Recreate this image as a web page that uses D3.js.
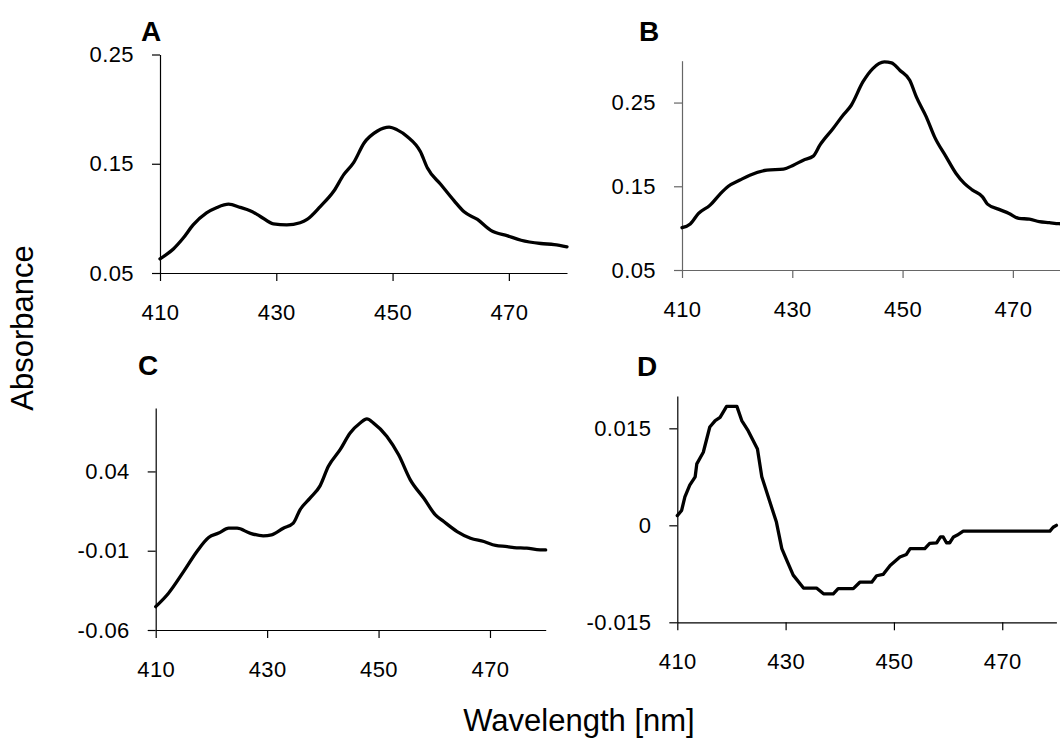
<!DOCTYPE html>
<html>
<head>
<meta charset="utf-8">
<script src="https://cdn.jsdelivr.net/npm/d3@7"></script>
<style>
  body { margin: 0; background: #fff; }
  svg { display: block; }
  .tick text { font-family: "Liberation Sans", Arial, sans-serif; font-size: 22px; letter-spacing: 0.4px; fill: #000; }
  .title { font-family: "Liberation Sans", Arial, sans-serif; font-size: 31px; fill: #000; }
  .letter { font-family: "Liberation Sans", Arial, sans-serif; font-size: 28px; font-weight: bold; fill: #000; }
</style>
</head>
<body>
<div id="chart"></div>
<script>
// wavelength ticks shared by all four panels
var xTicks = [410, 430, 450, 470];

// panel A
var wlA  = [410, 412.3, 414, 415.7, 418, 419.8, 421.8, 423.8, 425.5, 427.2, 429.5, 431.8, 434.1, 435.3, 437.6, 439.9, 441.6, 443.3, 445.1, 447.4, 449.4, 450.8, 452.5, 454.8, 456, 458.3, 460.6, 462.3, 464.6, 466.9, 469.8, 472.1, 475.5, 477.8, 480];
var absA = [0.063, 0.072, 0.082, 0.094, 0.105, 0.110, 0.113, 0.110, 0.107, 0.102, 0.095, 0.094, 0.096, 0.099, 0.111, 0.125, 0.140, 0.151, 0.169, 0.180, 0.1835, 0.181, 0.175, 0.161, 0.146, 0.131, 0.116, 0.106, 0.099, 0.089, 0.084, 0.080, 0.077, 0.076, 0.074];
var yTicksA = [0.05, 0.15, 0.25];
var yLabelsA = ["0.05", "0.15", "0.25"];

// panel B
var wlB  = [410, 411.5, 413, 415.1, 416.9, 418.4, 420.5, 422.3, 425.4, 428.4, 430.2, 432, 433.8, 435, 437.4, 439.2, 440.7, 442.8, 444.6, 446.7, 448, 449.5, 451.3, 452.5, 454.3, 455.8, 457.9, 459.7, 461.2, 462.7, 464.5, 465.4, 467.5, 469.3, 471.1, 473, 474.8, 476.6, 478.4, 480];
var absB = [0.1005, 0.105, 0.1176, 0.1275, 0.1407, 0.150, 0.1574, 0.1633, 0.1693, 0.1705, 0.1752, 0.1812, 0.186, 0.1991, 0.219, 0.2349, 0.2468, 0.2746, 0.2906, 0.2985, 0.2973, 0.2886, 0.2766, 0.2568, 0.2329, 0.209, 0.1852, 0.1653, 0.1534, 0.1454, 0.1374, 0.1287, 0.1224, 0.1176, 0.1116, 0.1108, 0.1077, 0.1065, 0.1053, 0.1045];
var yTicksB = [0.05, 0.15, 0.25];
var yLabelsB = ["0.05", "0.15", "0.25"];

// panel C
var wlC  = [410, 412.3, 415, 417.4, 419.5, 421.3, 423.1, 424.6, 426.9, 429.3, 430.8, 432.9, 434.7, 435.9, 437.7, 439.5, 441, 443.1, 444.9, 446.7, 447.9, 449.1, 451.5, 453.6, 455.7, 458.1, 460.2, 461.7, 464.1, 466.5, 468.9, 471, 473.1, 474.3, 476.6, 479, 480];
var absC = [-0.0453, -0.0368, -0.0232, -0.0105, -0.0017, 0.0011, 0.0042, 0.0042, 0.0011, -0.0006, 0.0, 0.0042, 0.0074, 0.0158, 0.0232, 0.0309, 0.0432, 0.0537, 0.0642, 0.0705, 0.0731, 0.0705, 0.0621, 0.0505, 0.0347, 0.0232, 0.0126, 0.0084, 0.0021, -0.0021, -0.0042, -0.0067, -0.0074, -0.008, -0.0084, -0.0095, -0.0095];
var yTicksC = [-0.06, -0.01, 0.04];
var yLabelsC = ["-0.06", "-0.01", "0.04"];

// panel D (difference spectrum)
var wlD  = [410, 410.8, 411.4, 412.3, 413.3, 413.6, 414.8, 416, 417, 417.9, 419.1, 421, 421.9, 423.1, 424.8, 425.6, 427.1, 428.3, 429.3, 430.2, 431.4, 433.3, 435.7, 437, 438.8, 439.7, 442.5, 443.7, 445.9, 446.8, 448, 449.3, 451.1, 452.3, 453, 455.7, 456.6, 457.9, 458.6, 459.1, 459.7, 460.3, 461, 461.7, 462.8, 478.8, 479.4, 480];
var absD = [0.0015, 0.0023, 0.0044, 0.0062, 0.0075, 0.0095, 0.0113, 0.0152, 0.0162, 0.0167, 0.0184, 0.0184, 0.0162, 0.0146, 0.0118, 0.0075, 0.0036, 0.0005, -0.0036, -0.0054, -0.0077, -0.0097, -0.0097, -0.0106, -0.0106, -0.0098, -0.0098, -0.0088, -0.0088, -0.0078, -0.0076, -0.0062, -0.0049, -0.0045, -0.0036, -0.0036, -0.0028, -0.0027, -0.0018, -0.0018, -0.0027, -0.0027, -0.0018, -0.0015, -0.0009, -0.0009, -0.0003, 0.0];
var yTicksD = [-0.015, 0, 0.015];
var yLabelsD = ["-0.015", "0", "0.015"];

var W = 1060, H = 740;

//////////////////////////////////
function drawPanel(svg, p) {
  var x = d3.scaleLinear().domain([410, 480]).range([p.left, p.right]);
  var y = d3.scaleLinear().domain(p.yDomain).range([p.bottom, p.top]);
  var g = svg.append("g");

  var yAxis = d3.axisLeft(y)
    .tickValues(p.yTicks)
    .tickFormat(function(d, i) { return p.yLabels[i]; })
    .tickSizeInner(8).tickSizeOuter(0).tickPadding(18);
  var xAxis = d3.axisBottom(x)
    .tickValues(xTicks)
    .tickFormat(d3.format("d"))
    .tickSizeInner(8).tickSizeOuter(0).tickPadding(23);

  g.append("g").attr("transform", "translate(" + p.left + ",0)").call(yAxis);
  g.append("g").attr("transform", "translate(0," + p.bottom + ")").call(xAxis);
  g.selectAll(".domain, .tick line").attr("stroke", p.axisColor).attr("stroke-width", 1.2);
  g.selectAll(".tick text").attr("font-family", null).attr("font-size", null);

  var line = d3.line()
    .x(function(d) { return x(d[0]); })
    .y(function(d) { return y(d[1]); })
    .curve(p.curve);

  g.append("path")
    .datum(d3.zip(p.wl, p.abs))
    .attr("d", line)
    .attr("fill", "none")
    .attr("stroke", "#000")
    .attr("stroke-width", 3.3)
    .attr("stroke-linejoin", "round")
    .attr("stroke-linecap", "round");

  g.append("text").attr("class", "letter")
    .attr("x", p.letterX).attr("y", p.letterY)
    .text(p.letter);
}

//////////////////////////////////
var svg = d3.select("#chart").append("svg")
  .attr("width", W).attr("height", H);

var panels = [
  { letter: "A", letterX: 141, letterY: 41, left: 160, right: 567, top: 54.5, bottom: 273,
    yDomain: [0.05, 0.25], wl: wlA, abs: absA, yTicks: yTicksA, yLabels: yLabelsA,
    axisColor: "#000", curve: d3.curveMonotoneX },
  { letter: "B", letterX: 639, letterY: 41, left: 682, right: 1068, top: 60.7, bottom: 270,
    yDomain: [0.05, 0.30], wl: wlB, abs: absB, yTicks: yTicksB, yLabels: yLabelsB,
    axisColor: "#666", curve: d3.curveMonotoneX },
  { letter: "C", letterX: 138, letterY: 375, left: 155.7, right: 545.7, top: 408, bottom: 630,
    yDomain: [-0.06, 0.08], wl: wlC, abs: absC, yTicks: yTicksC, yLabels: yLabelsC,
    axisColor: "#000", curve: d3.curveMonotoneX },
  { letter: "D", letterX: 637, letterY: 376, left: 677.3, right: 1056.4, top: 396, bottom: 622.3,
    yDomain: [-0.015, 0.02], wl: wlD, abs: absD, yTicks: yTicksD, yLabels: yLabelsD,
    axisColor: "#000", curve: d3.curveLinear }
];

panels.forEach(function(p) { drawPanel(svg, p); });

// shared axis titles
svg.append("text").attr("class", "title")
  .attr("text-anchor", "middle")
  .attr("transform", "translate(33,328) rotate(-90)")
  .text("Absorbance");

svg.append("text").attr("class", "title")
  .attr("text-anchor", "middle")
  .attr("x", 579).attr("y", 731)
  .text("Wavelength [nm]");
</script>
</body>
</html>
